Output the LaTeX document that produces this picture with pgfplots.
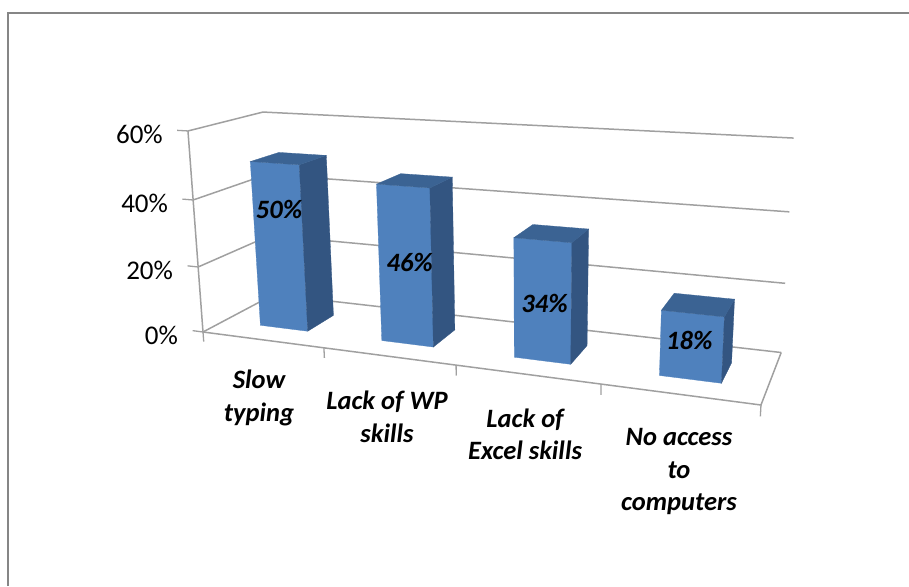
\documentclass[border=0pt]{standalone}
\usepackage{fontspec}
\setmainfont{Carlito}
\usepackage{pgfplots}
\usepackage{pgfplotstable}
\pgfplotsset{compat=1.18}

\definecolor{barfront}{HTML}{4F81BD}
\definecolor{barside}{HTML}{335581}
\definecolor{bartop}{HTML}{3B6393}
\definecolor{gridgray}{HTML}{A0A0A0}
\definecolor{framegray}{HTML}{868686}

% One row per category: position, value in percent, place on the bar of its label
\pgfplotstableread{
pos value labelu labelat
0   50    0.53   36.5
1   46    1.55   24.2
2   34    2.53   16.5
3   18    3.50   10.5
}\barvalues

% Corners of a unit box: a across the bar, b into the depth, h up the bar
\pgfplotstableread{
a b h
0 0 0
1 0 0
1 0 1
0 0 1
}\frontface
\pgfplotstableread{
a b h
1 0 0
1 1 0
1 1 1
1 0 1
}\sideface
\pgfplotstableread{
a b h
0 0 1
1 0 1
1 1 1
0 1 1
}\topface

% Frame of the plot box: category position, depth, percent
\pgfplotstableread{
u d v
0 0 0
0 0 60
}\wallfront
\pgfplotstableread{
u d v
0 0 0
4 0 0
4 1 0
}\floorfront
\pgfplotstableread{
u v
0 0
0 20
0 40
0 60
}\ylevels

\newcommand{\barwidth}{0.40}
\newcommand{\bargap}{0.315}
\newcommand{\depthfront}{0.28}
\newcommand{\depthrun}{0.40}

\begin{document}
\begin{tikzpicture}
\useasboundingbox (0,0) rectangle (909pt,586pt);
\begin{axis}[
  at={(0,0)}, anchor=south west,
  scale only axis, width=909pt, height=586pt,
  xmin=0, xmax=909, ymin=0, ymax=586, y dir=reverse,
  hide axis, clip=false,
  % perspective view of the box: category 0..4, depth 0..1, percent 0..60
  declare function={
    w(\u,\d,\v)=1-0.0425*\u+0.106*\d-0.000733*\v;
    px(\u,\d,\v)=(203+107.15*\u+99.6*\d-0.3883*\v)/w(\u,\d,\v);
    py(\u,\d,\v)=(332+1.0375*\u-6.2*\d-3.4467*\v)/w(\u,\d,\v);
  },
  grid line/.style={gridgray, line width=1.5pt, mark=none},
  tick mark/.style={gridgray, line width=1.3pt, mark=none},
]

% outer chart border, open at the bottom
\addplot[framegray, line width=1.6pt, mark=none] coordinates {(8,586) (8,13) (909,13)};

% gridlines on the back wall and on the left wall
\pgfplotsinvokeforeach{0,1,2,3}{
  \pgfplotstablegetelem{#1}{v}\of\ylevels
  \let\lev\pgfplotsretval
  \addplot[grid line] coordinates {
    ({px(0,0,\lev)},{py(0,0,\lev)})
    ({px(0,1,\lev)},{py(0,1,\lev)})
    ({px(4,1,\lev)},{py(4,1,\lev)})
  };
  % value axis tick
  \addplot[tick mark] coordinates {
    ({px(-0.09,0,\lev)},{py(-0.09,0,\lev)})
    ({px(0,0,\lev)},{py(0,0,\lev)})
  };
}

% front edge of the left wall and front edge of the floor
\addplot[grid line] table[x expr={px(\thisrow{u},\thisrow{d},\thisrow{v})}, y expr={py(\thisrow{u},\thisrow{d},\thisrow{v})}] {\wallfront};
\addplot[grid line] table[x expr={px(\thisrow{u},\thisrow{d},\thisrow{v})}, y expr={py(\thisrow{u},\thisrow{d},\thisrow{v})}] {\floorfront};

% category ticks below the floor edge
\pgfplotsinvokeforeach{0,1,2,3,4}{
  \addplot[tick mark] coordinates {
    ({px(#1,0,0)},{py(#1,0,0)})
    ({px(#1,0,-3)},{py(#1,0,-3)})
  };
}

% bars, each from its row of the value table
\pgfplotsinvokeforeach{0,1,2,3}{
  \pgfplotstablegetelem{#1}{value}\of\barvalues
  \let\barval\pgfplotsretval
  \addplot[fill=barfront, draw=barfront, line width=0.3pt, mark=none] table[
    x expr={px(#1+\bargap+\barwidth*\thisrow{a},\depthfront+\depthrun*\thisrow{b},\barval*\thisrow{h})},
    y expr={py(#1+\bargap+\barwidth*\thisrow{a},\depthfront+\depthrun*\thisrow{b},\barval*\thisrow{h})}] {\frontface} -- cycle;
  \addplot[fill=barside, draw=barside, line width=0.3pt, mark=none] table[
    x expr={px(#1+\bargap+\barwidth*\thisrow{a},\depthfront+\depthrun*\thisrow{b},\barval*\thisrow{h})},
    y expr={py(#1+\bargap+\barwidth*\thisrow{a},\depthfront+\depthrun*\thisrow{b},\barval*\thisrow{h})}] {\sideface} -- cycle;
  \addplot[fill=bartop, draw=bartop, line width=0.3pt, mark=none] table[
    x expr={px(#1+\bargap+\barwidth*\thisrow{a},\depthfront+\depthrun*\thisrow{b},\barval*\thisrow{h})},
    y expr={py(#1+\bargap+\barwidth*\thisrow{a},\depthfront+\depthrun*\thisrow{b},\barval*\thisrow{h})}] {\topface} -- cycle;
}

% value labels on the front faces
\addplot[only marks, mark=none, point meta=explicit symbolic,
  nodes near coords={\pgfplotspointmeta\%},
  every node near coord/.style={anchor=center, inner sep=0pt, text=black,
    font=\fontsize{26.5}{30}\selectfont\bfseries\itshape}]
  table[
    x expr={px(\thisrow{labelu},\depthfront,\thisrow{labelat})},
    y expr={py(\thisrow{labelu},\depthfront,\thisrow{labelat})},
    meta=value] {\barvalues};

% value axis labels
\addplot[only marks, mark=none, point meta=explicit symbolic,
  nodes near coords={\pgfplotspointmeta\%},
  every node near coord/.style={anchor=east, inner sep=0pt, text=black,
    xshift=-25pt, yshift=-3pt, font=\fontsize{27}{30}\selectfont}]
  table[
    x expr={px(\thisrow{u},0,\thisrow{v})},
    y expr={py(\thisrow{u},0,\thisrow{v})},
    meta=v] {\ylevels};

% category names
\begin{scope}[every node/.style={align=center, inner sep=0pt, text=black,
    font=\fontsize{26.5}{32.5}\selectfont\bfseries\itshape}]
  \node at (axis cs:259,398) {Slow\\typing};
  \node at (axis cs:387,417) {Lack of WP\\skills};
  \node at (axis cs:525,434.5) {Lack of\\Excel skills};
  \node at (axis cs:679,471.5) {No access\\to\\computers};
\end{scope}

\end{axis}
\end{tikzpicture}
\end{document}
